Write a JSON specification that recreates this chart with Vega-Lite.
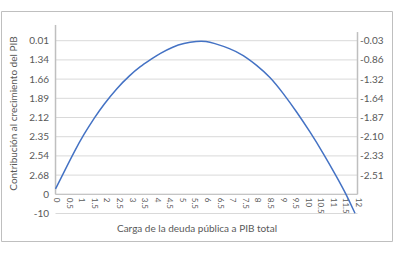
{
  "$schema": "https://vega.github.io/schema/vega-lite/v6.json",
  "width": 391,
  "height": 230,
  "autosize": {"type": "none"},
  "padding": {"left": 1, "top": 11, "right": 3, "bottom": 13},
  "background": "white",
  "config": {
    "view": {"stroke": "#bfbfbf", "strokeWidth": 1},
    "font": "Lato",
    "axis": {"labelFont": "Lato", "titleFont": "Lato", "labelColor": "#595959", "titleColor": "#595959", "titleFontWeight": "normal"}
  },
  "datasets": {
    "curve": [
      {"x": 0, "y": 1.28}, {"x": 0.31, "y": 2.09}, {"x": 0.78, "y": 3.31}, {"x": 1.11, "y": 4.09},
      {"x": 1.57, "y": 5.04}, {"x": 1.9, "y": 5.65}, {"x": 2.43, "y": 6.52}, {"x": 2.96, "y": 7.21},
      {"x": 3.36, "y": 7.65}, {"x": 3.75, "y": 7.99}, {"x": 4.15, "y": 8.34}, {"x": 4.68, "y": 8.69},
      {"x": 5.08, "y": 8.86}, {"x": 5.61, "y": 8.98}, {"x": 6.0, "y": 8.97}, {"x": 6.27, "y": 8.88},
      {"x": 6.93, "y": 8.6}, {"x": 7.46, "y": 8.26}, {"x": 7.99, "y": 7.73}, {"x": 8.52, "y": 7.13},
      {"x": 9.05, "y": 6.26}, {"x": 9.58, "y": 5.3}, {"x": 10.11, "y": 4.26}, {"x": 10.64, "y": 3.14},
      {"x": 11.17, "y": 1.92}, {"x": 11.57, "y": 0.96}, {"x": 11.9, "y": 0.01}
    ],
    "grid": [{"v": 0}, {"v": 1}, {"v": 2}, {"v": 3}, {"v": 4}, {"v": 5}, {"v": 6}, {"v": 7}, {"v": 8}, {"v": 9}],
    "one": [{"k": 1}]
  },
  "layer": [
    {
      "data": {"name": "grid"},
      "mark": {"type": "rule", "color": "#d9d9d9", "strokeWidth": 1},
      "encoding": {
        "y": {"field": "v", "type": "quantitative", "scale": {"domain": [-1.432, 10.547], "nice": false, "zero": false}, "axis": null},
        "x": {"datum": 0, "type": "quantitative", "scale": {"domain": [-2.166, 13.371], "nice": false, "zero": false}, "axis": null},
        "x2": {"datum": 12}
      }
    },
    {
      "data": {"name": "one"},
      "mark": {"type": "rule", "color": "#bfbfbf", "strokeWidth": 1},
      "encoding": {
        "y": {"datum": 1, "type": "quantitative", "axis": null},
        "x": {"datum": 0, "type": "quantitative", "axis": null},
        "x2": {"datum": 12}
      }
    },
    {
      "data": {"name": "one"},
      "mark": {"type": "rule", "color": "#bfbfbf", "strokeWidth": 1.5},
      "encoding": {
        "x": {"datum": 0, "type": "quantitative", "axis": null},
        "y": {"datum": 1, "type": "quantitative", "axis": null},
        "y2": {"datum": 9.82}
      }
    },
    {
      "data": {"name": "curve"},
      "mark": {"type": "line", "color": "#4472c4", "strokeWidth": 1.5, "interpolate": "basis", "clip": false},
      "encoding": {
        "x": {
          "field": "x", "type": "quantitative",
          "scale": {"domain": [-2.166, 13.371], "nice": false, "zero": false},
          "axis": {
            "orient": "bottom", "offset": -46.7, "values": [0,0.5,1,1.5,2,2.5,3,3.5,4,4.5,5,5.5,6,6.5,7,7.5,8,8.5,9,9.5,10,10.5,11,11.5,12],
            "labelExpr": "'' + datum.value", "labelAngle": 90, "labelAlign": "left", "labelBaseline": "middle",
            "labelPadding": 3, "labelFontSize": 8, "ticks": false, "domain": false, "grid": false, "labelOverlap": false,
            "title": "Carga de la deuda pública a PIB total", "titleFontSize": 10, "titleY": 33.7, "titleBaseline": "middle"
          }
        },
        "y": {
          "field": "y", "type": "quantitative",
          "scale": {"domain": [-1.432, 10.547], "nice": false, "zero": false},
          "axis": {
            "orient": "left", "offset": -54.5, "values": [0,1,2,3,4,5,6,7,8,9],
            "labelExpr": "['-10','0','2.68','2.54','2.35','2.12','1.89','1.66','1.34','0.01'][datum.value]",
            "labelFontSize": 10, "labelPadding": 7, "ticks": false, "domain": false, "grid": false, "labelOverlap": false,
            "title": "Contribución al crecimiento del PIB", "titleFontSize": 10, "titleX": -42.2, "titleY": 102,
            "titleAngle": -90, "titleAlign": "center", "titleBaseline": "middle"
          }
        }
      }
    },
    {
      "data": {"name": "one"},
      "mark": {"type": "rule", "color": "#bfbfbf", "strokeWidth": 1.5},
      "encoding": {
        "x": {"datum": 12, "type": "quantitative", "axis": null},
        "y": {
          "datum": 1, "type": "quantitative",
          "axis": {
            "orient": "right", "offset": -34.5, "values": [2,3,4,5,6,7,8,9],
            "labelExpr": "['','','-2.51','-2.33','-2.10','-1.87','-1.64','-1.32','-0.86','-0.03'][datum.value]",
            "labelFontSize": 10, "labelPadding": 2, "ticks": false, "domain": false, "grid": false, "labelOverlap": false,
            "title": null
          }
        },
        "y2": {"datum": 9.45}
      }
    }
  ],
  "resolve": {"scale": {"y": "shared", "x": "shared"}, "axis": {"y": "independent", "x": "independent"}}
}
